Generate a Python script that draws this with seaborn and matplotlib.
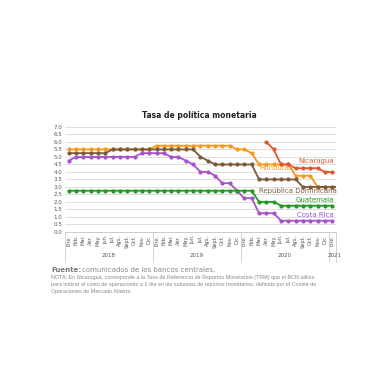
import numpy as np
import pandas as pd
import matplotlib.pyplot as plt
import matplotlib.transforms as mtransforms
import seaborn as sns

sns.set_theme(style="white")
plt.rcParams['font.family'] = ['DejaVu Sans']

# meses Ene 2018 - Ene 2021
meses = ["Ene.", "Feb.", "Mar.", "Abr.", "May.", "Jun.", "Jul.", "Ago.", "Sept.", "Oct.", "Nov.", "Dic."]
month_labels = meses * 3 + ["Ene."]
years = ["2018", "2019", "2020", "2021"]

honduras = [5.5] * 12 + [5.75] * 11 + [5.5, 5.5, 5.25, 4.5, 4.5, 4.5, 4.5, 4.5,
                                       3.75, 3.75, 3.75, 3.0, 3.0, 3.0]
rep_dom = [5.25] * 6 + [5.5] * 12 + [5.0, 4.75, 4.5, 4.5, 4.5, 4.5, 4.5, 4.5,
                                     3.5, 3.5, 3.5, 3.5, 3.5, 3.5, 3.0, 3.0, 3.0, 3.0, 3.0, 3.0]
costa_rica = [4.75] + [5.0] * 9 + [5.25] * 4 + [5.0, 5.0, 4.75, 4.5, 4.0, 4.0, 3.75, 3.25, 3.25,
                                                2.75, 2.25, 2.25, 1.25, 1.25, 1.25] + [0.75] * 8
guatemala = [2.75] * 26 + [2.0, 2.0, 2.0] + [1.75] * 8
nicaragua = [np.nan] * 27 + [6.0, 5.5, 4.5, 4.5, 4.25, 4.25, 4.25, 4.25, 4.0, 4.0]

series = {
    "Honduras": honduras,
    "República Dominicana": rep_dom,
    "Costa Rica": costa_rica,
    "Guatemala": guatemala,
    "Nicaragua": nicaragua,
}
colors = {
    "Honduras": "#F7981F",
    "República Dominicana": "#7A5B3A",
    "Costa Rica": "#A653C9",
    "Guatemala": "#229A22",
    "Nicaragua": "#E4572E",
}

frames = []
for name, vals in series.items():
    frames.append(pd.DataFrame({"mes": np.arange(len(vals)), "tasa": vals, "pais": name}))
df = pd.concat(frames).dropna()

fig = plt.figure(figsize=(3.8, 3.8), dpi=100)
ax = fig.add_axes([0.171, 0.3895, 0.713, 0.2765])

sns.lineplot(data=df, x="mes", y="tasa", hue="pais", palette=colors, marker="o",
             markersize=3, markeredgewidth=0, linewidth=1.3, legend=False, ax=ax)

ax.set_xlim(-0.5, 36.5)
ax.set_ylim(0, 7.0)
ax.set_yticks(np.arange(0, 7.01, 0.5))
ax.set_yticklabels([f"{v:.1f}" for v in np.arange(0, 7.01, 0.5)], fontsize=4, color="#555555")
ax.set_xticks(np.arange(37))
ax.set_xticklabels(month_labels, rotation=90, fontsize=3.6, color="#555555")
ax.tick_params(axis="both", length=0, pad=2)
ax.set_xlabel("")
ax.set_ylabel("")
ax.grid(axis="y", color="#dddddd", linewidth=0.7)
for s in ["top", "right", "left"]:
    ax.spines[s].set_visible(False)
ax.spines["bottom"].set_color("#cccccc")
ax.spines["bottom"].set_linewidth(0.7)

# separadores y etiquetas de año
trans = mtransforms.blended_transform_factory(ax.transData, ax.transAxes)
for xs in [-0.5, 11.5, 23.5, 35.5, 36.5]:
    ax.plot([xs, xs], [0, -0.29], transform=trans, color="#cccccc", lw=0.6, clip_on=False)
for xc, yr in zip([5.5, 17.5, 29.5, 36.3], years):
    ax.text(xc, -0.22, yr, transform=trans, ha="center", va="center", fontsize=4, color="#555555")

# etiquetas de series
ax.text(36.2, 4.7, "Nicaragua", color=colors["Nicaragua"], fontsize=5, ha="right", va="center")
ax.text(26.1, 4.25, "Honduras", color=colors["Honduras"], fontsize=5, ha="left", va="center")
ax.text(36.6, 2.75, "República Dominicana", color=colors["República Dominicana"], fontsize=5,
        ha="right", va="center")
ax.text(36.2, 2.13, "Guatemala", color=colors["Guatemala"], fontsize=5, ha="right", va="center")
ax.text(36.2, 1.15, "Costa Rica", color=colors["Costa Rica"], fontsize=5, ha="right", va="center")

fig.text(0.525, 0.697, "Tasa de política monetaria", fontsize=5.5, fontweight="bold",
         ha="center", va="center", color="#222222")

fig.text(0.135, 0.289, "Fuente:", fontsize=5, fontweight="bold", color="#777777", va="center")
fig.text(0.215, 0.289, "comunicados de los bancos centrales.", fontsize=5, color="#888888", va="center")
nota = ("NOTA: En Nicaragua, corresponde a la Tasa de Referencia de Reportos Monetarios (TRM) que el BCN utiliza\n"
        "para indicar el costo de operaciones a 1 día en las subastas de reportos monetarios, definida por el Comité de\n"
        "Operaciones de Mercado Abierto")
fig.text(0.135, 0.277, nota, fontsize=3.9, color="#888888", va="top", family=["Liberation Sans"],
         linespacing=1.5)

fig.savefig("out.png", dpi=100, facecolor="white")
